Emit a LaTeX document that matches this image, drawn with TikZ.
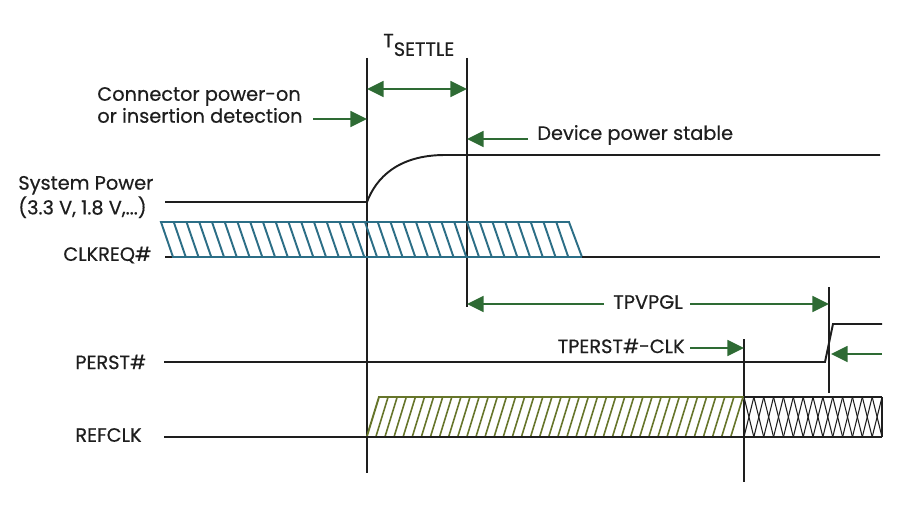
\documentclass[tikz,border=0pt]{standalone}
\usepackage{xcolor}
\usepackage{fontspec}
\setmainfont{Poppins}
\newfontfamily\labelfont{Poppins}[FakeBold=0.5]
\usepackage{tikz}
\usetikzlibrary{arrows.meta, positioning}

\definecolor{arrowgreen}{HTML}{2E6B34}
\definecolor{clkteal}{HTML}{2C6E86}
\definecolor{refolive}{HTML}{66752A}
\definecolor{inkgray}{HTML}{1E1E1E}

\begin{document}
\begin{tikzpicture}[x=0.02cm, y=-0.02cm,
    sig/.style={inkgray, line width=1.1pt},
    marker/.style={inkgray, line width=0.7pt},
    timearrow/.style={arrowgreen, line width=1.3pt, -{Triangle[length=9.5pt, width=9pt]}},
    dimarrow/.style={arrowgreen, line width=1.3pt, {Triangle[length=9.5pt, width=9pt]}-{Triangle[length=9.5pt, width=9pt]}},
    lbl/.style={inkgray, font=\labelfont\fontsize{11}{12.5}\selectfont, inner sep=0pt}]

    \useasboundingbox (0,0) rectangle (907,510);

    % Event markers
    \coordinate (m1top) at (367,58);
    \coordinate (m1bot) at (367,473);
    \coordinate (m2top) at (467,58);
    \coordinate (m2bot) at (467,307);
    \coordinate (m3top) at (744,339);
    \coordinate (m3bot) at (744,482);
    \coordinate (m4top) at (829,287);
    \coordinate (m4bot) at (829,393);
    \draw[marker] (m1top) -- (m1bot);
    \draw[marker] (m2top) -- (m2bot);
    \draw[marker] (m3top) -- (m3bot);
    \draw[marker] (m4top) -- (m4bot);

    % Signal names
    \node[lbl, align=left, anchor=west] (syspwr) at (18,197) {System Power\\(3.3 V, 1.8 V,...)};
    \node[lbl, anchor=west] (clkreq) at (63,255) {CLKREQ\#};
    \node[lbl, anchor=west] (perst) at (75,362) {PERST\#};
    \node[lbl, anchor=west] (refclk) at (75,435) {REFCLK};

    % System power ramp
    \draw[sig] (165,202) -- (367,202) .. controls (376,178) and (398,155) .. (445,155) -- (880,155);

    % CLKREQ# (hatched, teal)
    \draw[sig] (165,257) -- (173,257);
    \draw[clkteal, line width=1.1pt] (161,222) -- (569,222) -- (582,257) -- (173,257) -- cycle;
    \foreach \i in {1,...,31} {
        \draw[clkteal, line width=1.1pt] (161+\i*12.75,222) -- ++(12,35);
    }
    \draw[sig] (582,257) -- (880,257);

    % PERST#
    \draw[sig] (164,362) -- (825,362) -- (833,324) -- (882,324);

    % REFCLK (hatched, olive, then toggling)
    \fill[white] (367,436) -- (379,397) -- (744,397) -- (732,436) -- cycle;
    \foreach \i in {1,...,40} {
        \draw[refolive, line width=0.9pt] (367+\i*9.1,436) -- ++(12,-39);
    }
    \draw[refolive, line width=1.1pt] (367,436) -- (379,397) -- (744,397);
    \draw[sig] (164,437) -- (744,437);
    \foreach \i in {0,...,13} {
        \draw[inkgray, line width=0.6pt] (744+\i*9.86,397) -- ++(9.86,40);
        \draw[inkgray, line width=0.6pt] (744+\i*9.86,437) -- ++(9.86,-40);
    }
    \draw[inkgray, line width=0.9pt] (744,397) -- (882,397);
    \draw[inkgray, line width=0.9pt] (744,437) -- (882,437);
    \draw[inkgray, line width=0.9pt] (882,397) -- (882,437);

    % T_SETTLE
    \node[lbl, anchor=west] (tsettle) at (383,45) {T\raisebox{-0.8ex}{SETTLE}};
    \coordinate (settleA) at (367,89);
    \draw[dimarrow] (settleA) -- (settleA -| m2top);

    % Connector power-on
    \node[lbl, align=left, anchor=west] (connon) at (97,105) {Connector power-on\\or insertion detection};
    \coordinate (connTail) at (313,119);
    \draw[timearrow] (connTail) -- (connTail -| m1top);

    % Device power stable
    \node[lbl, anchor=west] (devstable) at (537,135) {Device power stable};
    \coordinate (devTail) at (528,139);
    \draw[timearrow] (devTail) -- (devTail -| m2top);

    % TPVPGL
    \node[lbl, anchor=center] (tpvpgl) at (648,302) {TPVPGL};
    \draw[timearrow] ([xshift=-5pt]tpvpgl.west |- 0,304) -- (m2top |- 0,304);
    \draw[timearrow] ([xshift=4pt]tpvpgl.east |- 0,304) -- (m4top |- 0,304);

    % TPERST#-CLK
    \node[lbl, anchor=east] (tperst) at (685,346) {TPERST\#-CLK};
    \draw[timearrow] ([xshift=3pt]tperst.east |- 0,348) -- (m3top |- 0,348);

    % PERST# setup arrow
    \coordinate (perstTail) at (882,354);
    \draw[timearrow] (perstTail) -- (831,354);
\end{tikzpicture}
\end{document}
